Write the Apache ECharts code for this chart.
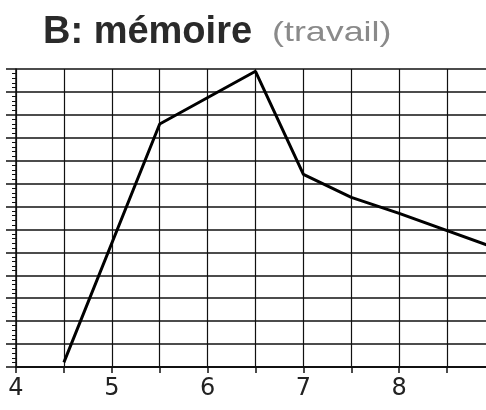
<!DOCTYPE html>
<html>
<head>
<meta charset="utf-8">
<script src="https://cdn.jsdelivr.net/npm/echarts@6/dist/echarts.min.js"></script>
<style>
  html, body { margin: 0; padding: 0; background: #fff; }
  #chart { width: 486px; height: 410px; }
</style>
</head>
<body>
<div id="chart"></div>
<script>
// Curve: working-memory score against age
const ages = [4.5, 5.5, 6.5, 7, 7.5, 8, 9];
const scores = [0.2, 10.6, 12.9, 8.4, 7.4, 6.7, 5.2];

// Axis labels shown under the whole-number ticks
const xTickLabels = [4, 5, 6, 7, 8, 9];

const titleMain = 'B: mémoire';
const titleSub = '(travail)';

const chart = echarts.init(document.getElementById('chart'), null, { renderer: 'canvas' });

chart.setOption({
  backgroundColor: '#fff',
  animation: false,
  title: {
    text: titleMain,
    left: 38,
    top: 9,
    textStyle: { fontFamily: 'Liberation Sans', fontWeight: 'bold', fontSize: 38, color: '#2a2a2a' }
  },
  graphic: [{
    type: 'text',
    left: 272,
    top: 19,
    scaleX: 1.28,
    originX: 0,
    style: {
      text: titleSub,
      fontFamily: 'Liberation Sans',
      fontSize: 28,
      fill: '#8a8a8a'
    }
  }],
  // the plot runs past the right edge of the page, as far as age 9
  grid: { left: 16, width: 479, top: 69, bottom: 43, containLabel: false, outerBoundsMode: 'none' },
  xAxis: {
    type: 'value',
    min: 4,
    max: 9,
    interval: 0.5,
    axisLine: { show: true, lineStyle: { color: '#111', width: 2 } },
    axisTick: { show: true, length: 6, lineStyle: { color: '#111', width: 1.5 } },
    axisLabel: {
      margin: 10,
      fontSize: 24,
      fontFamily: 'DejaVu Sans',
      color: '#222',
      formatter: v => (xTickLabels.includes(v) ? String(v) : '')
    },
    splitLine: { show: true, lineStyle: { color: '#111', width: 1.2 } }
  },
  yAxis: {
    type: 'value',
    min: 0,
    max: 13,
    interval: 1,
    axisLine: { show: true, lineStyle: { color: '#111', width: 1.5 } },
    axisTick: { show: true, length: 10, lineStyle: { color: '#111', width: 1.5 } },
    minorTick: { show: true, splitNumber: 5, length: 4, lineStyle: { color: '#111', width: 1 } },
    axisLabel: { show: false },
    splitLine: { show: true, lineStyle: { color: '#111', width: 1.6 } }
  },
  series: [{
    type: 'line',
    data: ages.map((a, i) => [a, scores[i]]),
    showSymbol: false,
    lineStyle: { color: '#000', width: 3 },
    clip: true
  }]
});
</script>
</body>
</html>
